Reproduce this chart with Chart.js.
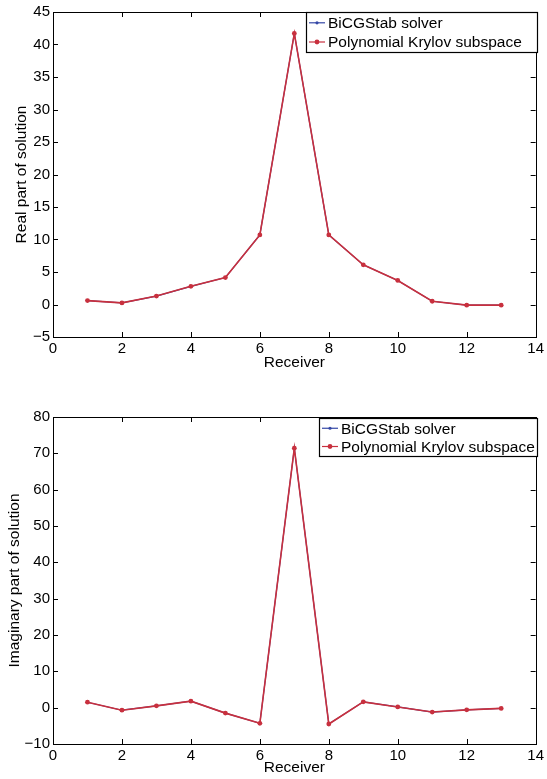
<!DOCTYPE html>
<html>
<head>
<meta charset="utf-8">
<script src="https://cdn.jsdelivr.net/npm/chart.js@4.4.1/dist/chart.umd.min.js"></script>
<style>
  body { margin: 0; background: #fff; }
  #wrap { position: relative; width: 547px; height: 779px; }
  canvas { position: absolute; left: 0; }
  #realChart { top: 0; }
  #imagChart { top: 405px; }
</style>
</head>
<body>
<div id="wrap">
  <canvas id="realChart" width="547" height="372"></canvas>
  <canvas id="imagChart" width="547" height="374"></canvas>
</div>
<script>
// datos
const receivers = [1, 2, 3, 4, 5, 6, 7, 8, 9, 10, 11, 12, 13];
const realBicg = [0.6, 0.25, 1.3, 2.8, 4.15, 10.7, 41.7, 10.7, 6.1, 3.7, 0.5, -0.1, -0.1];
const realKrylov = [0.6, 0.25, 1.3, 2.8, 4.15, 10.7, 41.7, 10.7, 6.1, 3.7, 0.5, -0.1, -0.1];
const imagBicg = [1.5, -0.7, 0.5, 1.8, -1.5, -4.3, 71.4, -4.5, 1.6, 0.2, -1.2, -0.6, -0.2];
const imagKrylov = [1.5, -0.7, 0.5, 1.8, -1.5, -4.3, 71.4, -4.5, 1.6, 0.2, -1.2, -0.6, -0.2];
const seriesNames = ['BiCGStab solver', 'Polynomial Krylov subspace'];
const xTicksRange = { min: 0, max: 14, step: 2 };
const realRange = { min: -5, max: 45, step: 5 };
const imagRange = { min: -10, max: 80, step: 10 };

const FONT = 'Liberation Sans, Arial, Helvetica, sans-serif';
const BLUE = '#3447a6';
const RED = '#c8303e';

// marco con marcas hacia dentro (estilo MATLAB)
const frameTicks = {
    id: 'frameTicks',
    afterDatasetsDraw(chart) {
        const { ctx, chartArea: a, scales: { x, y } } = chart;
        const len = 5;
        ctx.save();
        ctx.strokeStyle = '#000';
        ctx.lineWidth = 1;
        ctx.beginPath();
        x.ticks.forEach(t => {
            const px = Math.round(x.getPixelForValue(t.value)) + 0.5;
            ctx.moveTo(px, a.bottom); ctx.lineTo(px, a.bottom - len);
            ctx.moveTo(px, a.top); ctx.lineTo(px, a.top + len);
        });
        y.ticks.forEach(t => {
            const py = Math.round(y.getPixelForValue(t.value)) + 0.5;
            ctx.moveTo(a.left, py); ctx.lineTo(a.left + len, py);
            ctx.moveTo(a.right, py); ctx.lineTo(a.right - len, py);
        });
        ctx.stroke();
        ctx.strokeRect(Math.round(a.left) + 0.5, Math.round(a.top) + 0.5,
            Math.round(a.right - a.left), Math.round(a.bottom - a.top));
        ctx.restore();
    },
    afterDraw(chart, args, opts) {
        const box = opts.box;
        if (!box) return;
        const ctx = chart.ctx;
        ctx.save();
        ctx.fillStyle = '#fff';
        ctx.fillRect(box.left, box.top, box.width, box.height);
        ctx.strokeStyle = '#000';
        ctx.lineWidth = 1.2;
        ctx.strokeRect(box.left + 0.5, box.top + 0.5, box.width, box.height);
        ctx.font = '15.5px ' + FONT;
        ctx.textBaseline = 'middle';
        chart.data.datasets.forEach((ds, i) => {
            const yy = box.top + (i === 0 ? 0.27 : 0.75) * box.height;
            ctx.strokeStyle = ds.borderColor;
            ctx.lineWidth = 1.2;
            ctx.beginPath();
            ctx.moveTo(box.left + 3, yy);
            ctx.lineTo(box.left + 19, yy);
            ctx.stroke();
            ctx.fillStyle = ds.borderColor;
            ctx.beginPath();
            ctx.arc(box.left + 11, yy, ds.pointRadius, 0, Math.PI * 2);
            ctx.fill();
            ctx.fillStyle = '#000';
            ctx.fillText(ds.label, box.left + 22, yy + 1);
        });
        ctx.restore();
    }
};

function toPoints(values) {
    return values.map((v, i) => ({ x: receivers[i], y: v }));
}

function minusSign(v) {
    return String(v).replace('-', '\u2212');
}

function makeChart(id, bicg, krylov, range, yTitle, cfg) {
    const ctx = document.getElementById(id).getContext('2d');
    return new Chart(ctx, {
        type: 'line',
        data: {
            datasets: [
                {
                    label: seriesNames[0],
                    data: toPoints(bicg),
                    borderColor: BLUE,
                    backgroundColor: BLUE,
                    borderWidth: 1.2,
                    pointRadius: 1.6,
                    pointBorderWidth: 0,
                    order: 2
                },
                {
                    label: seriesNames[1],
                    data: toPoints(krylov),
                    borderColor: RED,
                    backgroundColor: RED,
                    borderWidth: 1.6,
                    pointRadius: 2.4,
                    pointBorderWidth: 0,
                    order: 1
                }
            ]
        },
        options: {
            responsive: false,
            animation: false,
            devicePixelRatio: 1,
            layout: { padding: { top: cfg.padTop, right: 7, bottom: 0, left: 0 } },
            plugins: {
                legend: { display: false },
                tooltip: { enabled: false },
                frameTicks: { box: cfg.legendBox }
            },
            scales: {
                x: {
                    type: 'linear',
                    min: xTicksRange.min,
                    max: xTicksRange.max,
                    ticks: {
                        stepSize: xTicksRange.step,
                        padding: 3,
                        color: '#000',
                        font: { family: FONT, size: 15 },
                        maxRotation: 0
                    },
                    grid: { display: false, drawTicks: false },
                    border: { display: false },
                    title: {
                        display: true,
                        text: 'Receiver',
                        color: '#000',
                        font: { family: FONT, size: 15.5 },
                        padding: { top: 0, bottom: cfg.xTitlePad }
                    },
                    afterFit: s => { s.height = cfg.xHeight; }
                },
                y: {
                    min: range.min,
                    max: range.max,
                    ticks: {
                        stepSize: range.step,
                        padding: 3,
                        color: '#000',
                        font: { family: FONT, size: 15 },
                        callback: v => minusSign(v)
                    },
                    grid: { display: false, drawTicks: false },
                    border: { display: false },
                    title: {
                        display: true,
                        text: yTitle,
                        color: '#000',
                        font: { family: FONT, size: 15.5 },
                        padding: { top: cfg.yTitlePad, bottom: 0 }
                    },
                    afterFit: s => { s.width = 53; }
                }
            }
        },
        plugins: [frameTicks]
    });
}

makeChart('realChart', realBicg, realKrylov, realRange, 'Real part of solution', {
    padTop: 9, xHeight: 35, xTitlePad: 0, yTitlePad: 12,
    legendBox: { left: 306, top: 12, width: 231, height: 40 }
});

makeChart('imagChart', imagBicg, imagKrylov, imagRange, 'Imaginary part of solution', {
    padTop: 10, xHeight: 35, xTitlePad: 2, yTitlePad: 5,
    legendBox: { left: 319, top: 13, width: 218, height: 38 }
});
</script>
</body>
</html>
